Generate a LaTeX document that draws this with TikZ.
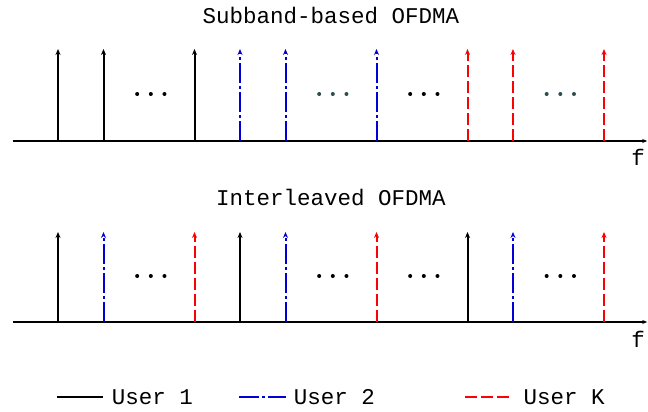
\documentclass[tikz,border=0pt]{standalone}
\usepackage{fontspec}
\setmonofont{Liberation Mono}
\usetikzlibrary{arrows.meta,positioning}
\definecolor{dotgray}{RGB}{47,79,79}
\definecolor{ublue}{RGB}{0,0,215}
\tikzset{usera/.style={black,line width=2pt},
         userb/.style={ublue,line width=2pt,dash pattern=on 20pt off 3pt on 3pt off 3pt},
         userk/.style={red,line width=2pt,dash pattern=on 12pt off 4pt},
         tip/.style={-{Stealth[length=6pt,width=5pt]}},
         axis/.style={black,line width=1.8pt,-{Stealth[length=5pt,width=4pt]}},
         lbl/.style={font=\ttfamily\fontsize{22.5}{26}\selectfont, inner sep=0pt}}

\begin{document}
\begin{tikzpicture}[x=45.5pt,y=1pt,xshift=12.5pt]
   \useasboundingbox (-12.5pt,0pt) rectangle (635.5pt,412pt);
   \begin{scope}[yshift=271pt]
    \node[lbl] (title1) at (7,126) {Subband-based OFDMA};
    \coordinate (a1) at (0,0);
    \coordinate (b1) at (13.95,0);
    \draw[axis] (a1) -- (b1);
    \node[lbl] (f1) at (13.75,-16) {f};
    \foreach \k in {1,2,4} \draw[usera,tip] (\k,0) -- (\k,92);
    \foreach \k in {5,6,8} \draw[userb,tip] (\k,0) -- (\k,92);
    \foreach \k in {10,11,13} \draw[userk,tip] (\k,0) -- (\k,92);
    \foreach \k/\c in {3/black,7/dotgray,9/black,12/dotgray}
      \foreach \d in {-0.26,0.04,0.34} \fill[\c] (\k+\d,47) circle (2pt);
   \end{scope}
   \begin{scope}[yshift=90pt]
    \node[lbl] (title2) at (7,125) {Interleaved OFDMA};
    \coordinate (a2) at (0,0);
    \coordinate (b2) at (13.95,0);
    \draw[axis] (a2) -- (b2);
    \node[lbl] (f2) at (13.75,-17) {f};
    \foreach \k in {1,5,10} \draw[usera,tip] (\k,0) -- (\k,90);
    \foreach \k in {2,6,11} \draw[userb,tip] (\k,0) -- (\k,90);
    \foreach \k in {4,8,13} \draw[userk,tip] (\k,0) -- (\k,90);
    \foreach \k in {3,7,9,12}
      \foreach \d in {-0.26,0.04,0.34} \fill[black] (\k+\d,46) circle (2pt);
   \end{scope}
   % legend
   \coordinate (l1a) at (0.98,15);
   \coordinate (l1b) at (1.99,15);
   \coordinate (l2a) at (4.98,15);
   \coordinate (l2b) at (6.01,15);
   \coordinate (lka) at (9.95,15);
   \coordinate (lkb) at (10.96,15);
   \draw[usera] (l1a) -- (l1b);
   \draw[userb] (l2a) -- (l2b);
   \draw[userk] (lka) -- (lkb);
   \node[lbl,anchor=west] (u1) at (2.18,15) {User 1};
   \node[lbl,anchor=west] (u2) at (6.18,15) {User 2};
   \node[lbl,anchor=west] (uk) at (11.23,15) {User K};
\end{tikzpicture}
\end{document}
